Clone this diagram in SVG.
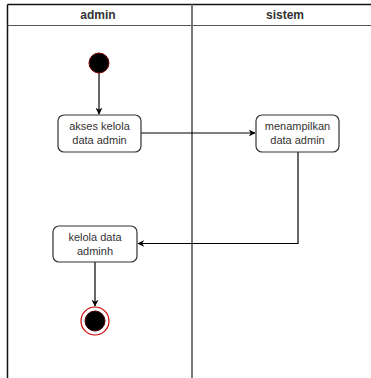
<svg xmlns="http://www.w3.org/2000/svg" width="371" height="378" viewBox="0 0 371 378">
<defs>
<marker id="arr" viewBox="0 0 10 10" refX="9" refY="5" markerWidth="7" markerHeight="7" orient="auto" markerUnits="userSpaceOnUse">
<path d="M0,0 L10,5 L0,10 L3,5 Z" fill="#000"/>
</marker>
<style>
.box{fill:#fff;stroke:#333;stroke-width:1.2}
.t{font-family:"Liberation Sans",Arial,sans-serif;font-size:11px;fill:#333;text-anchor:middle}
.h{font-family:"Liberation Sans",Arial,sans-serif;font-size:12px;font-weight:bold;fill:#333;text-anchor:middle}
.c{fill:none;stroke:#000;stroke-width:1.2}
</style>
</defs>
<rect width="371" height="378" fill="#fff"/>
<g id="lanes">
<line x1="7.5" y1="4.5" x2="371" y2="4.5" stroke="#111" stroke-width="1.5"/>
<line x1="7.5" y1="4.5" x2="7.5" y2="378" stroke="#111" stroke-width="1.5"/>
<line x1="7.5" y1="25.5" x2="371" y2="25.5" stroke="#555" stroke-width="1.2"/>
<line x1="192" y1="4.5" x2="192" y2="378" stroke="#777" stroke-width="2"/>
<text class="h" x="98" y="19">admin</text>
<text class="h" x="285" y="19">sistem</text>
</g>
<g id="connectors">
<path class="c" d="M99,73 L99,114" marker-end="url(#arr)"/>
<path class="c" d="M141,133 L255,133" marker-end="url(#arr)"/>
<path class="c" d="M298,152 L298,243.5 L138,243.5" marker-end="url(#arr)"/>
<path class="c" d="M95,262 L95,306" marker-end="url(#arr)"/>
</g>
<g id="start">
<circle cx="99" cy="63" r="10" fill="#000" stroke="#7a0000" stroke-width="1"/>
</g>
<g id="akses">
<rect class="box" x="58" y="115" width="83" height="37" rx="6"/>
<text class="t" x="99.5" y="130">akses kelola</text>
<text class="t" x="99.5" y="144">data admin</text>
</g>
<g id="menampilkan">
<rect class="box" x="256" y="115" width="83" height="37" rx="6"/>
<text class="t" x="297.5" y="130">menampilkan</text>
<text class="t" x="297.5" y="144">data admin</text>
</g>
<g id="kelola">
<rect class="box" x="53" y="226" width="84" height="36" rx="6"/>
<text class="t" x="95" y="241">kelola data</text>
<text class="t" x="95" y="255">adminh</text>
</g>
<g id="end">
<circle cx="95" cy="321" r="14" fill="#fff" stroke="#c00" stroke-width="1.2"/>
<circle cx="95" cy="321" r="10" fill="#000" stroke="#400" stroke-width="1"/>
</g>
</svg>
